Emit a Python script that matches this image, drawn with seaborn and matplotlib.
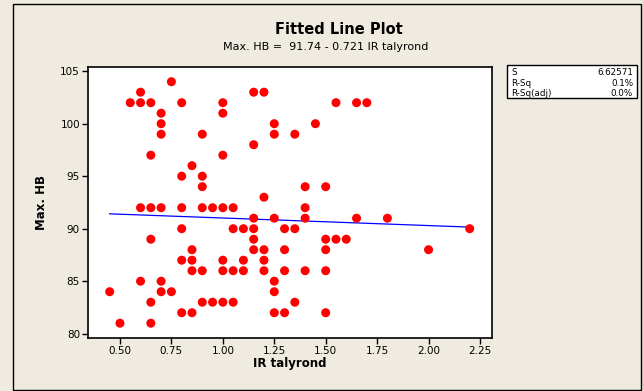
import matplotlib
matplotlib.use("Agg")
import matplotlib.pyplot as plt
import numpy as np
import pandas as pd
import seaborn as sns

# --- data ---
ir_talyrond = [
    0.45, 0.50, 0.55,
    0.60, 0.60, 0.60, 0.60,
    0.65, 0.65, 0.65, 0.65, 0.65, 0.65,
    0.70, 0.70, 0.70, 0.70, 0.70, 0.70,
    0.75, 0.75,
    0.80, 0.80, 0.80, 0.80, 0.80, 0.80,
    0.85, 0.85, 0.85, 0.85, 0.85,
    0.90, 0.90, 0.90, 0.90, 0.90, 0.90,
    0.95, 0.95,
    1.00, 1.00, 1.00, 1.00, 1.00, 1.00, 1.00,
    1.05, 1.05, 1.05, 1.05,
    1.10, 1.10, 1.10,
    1.15, 1.15, 1.15, 1.15, 1.15, 1.15,
    1.20, 1.20, 1.20, 1.20, 1.20,
    1.25, 1.25, 1.25, 1.25, 1.25, 1.25,
    1.30, 1.30, 1.30, 1.30,
    1.35, 1.35, 1.35,
    1.40, 1.40, 1.40, 1.40,
    1.45,
    1.50, 1.50, 1.50, 1.50, 1.50,
    1.55, 1.55,
    1.60,
    1.65, 1.65,
    1.70, 1.80, 2.00, 2.20,
]
max_hb = [
    84, 81, 102,
    103, 102, 92, 85,
    102, 97, 92, 89, 83, 81,
    101, 100, 99, 92, 85, 84,
    104, 84,
    102, 95, 92, 90, 87, 82,
    96, 88, 87, 86, 82,
    99, 95, 94, 92, 86, 83,
    92, 83,
    102, 101, 97, 92, 87, 86, 83,
    92, 90, 86, 83,
    90, 87, 86,
    103, 98, 91, 90, 89, 88,
    103, 93, 88, 87, 86,
    100, 99, 91, 85, 84, 82,
    90, 88, 86, 82,
    99, 90, 83,
    94, 92, 91, 86,
    100,
    94, 89, 88, 86, 82,
    102, 89,
    89,
    102, 91,
    102, 91, 88, 90,
]

# fitted line as printed on the chart
intercept = 91.74
slope = -0.721

stat_names = ["S", "R-Sq", "R-Sq(adj)"]
stat_values = ["6.62571", "0.1%", "0.0%"]
x_ticks = [0.50, 0.75, 1.00, 1.25, 1.50, 1.75, 2.00, 2.25]
y_ticks = [80, 85, 90, 95, 100, 105]

df = pd.DataFrame({"IR talyrond": ir_talyrond, "Max. HB": max_hb})
xs = np.linspace(df["IR talyrond"].min(), df["IR talyrond"].max(), 50)
fit_df = pd.DataFrame({"IR talyrond": xs, "Max. HB": intercept + slope * xs})

bg = "#EFEBE0"
fig = plt.figure(figsize=(6.43, 3.91), dpi=100, facecolor=bg)
ax = fig.add_axes([88.3 / 643, 1 - 337.7 / 391, (491.7 - 88.3) / 643, (337.7 - 67.3) / 391])
ax.set_facecolor("white")

sns.lineplot(data=fit_df, x="IR talyrond", y="Max. HB", color="#0000FF", lw=0.9, ax=ax)
sns.scatterplot(data=df, x="IR talyrond", y="Max. HB", color="#FF0000",
                s=42, edgecolor="none", ax=ax, zorder=3)

ax.set_xlim(0.346, 2.307)
ax.set_ylim(79.62, 105.37)
ax.set_xticks(x_ticks)
ax.set_xticklabels([f"{t:.2f}" for t in x_ticks])
ax.set_yticks(y_ticks)
ax.tick_params(direction="out", length=4, width=1, labelsize=7.5, pad=2)
for sp in ax.spines.values():
    sp.set_linewidth(1.2)
    sp.set_color("black")
ax.set_xlabel("IR talyrond", fontsize=8.5, fontweight="bold", labelpad=1)
ax.set_ylabel("Max. HB", fontsize=8.5, fontweight="bold", labelpad=9)

fig.text(339 / 643, 1 - 30 / 391, "Fitted Line Plot", ha="center", va="center",
         fontsize=10.5, fontweight="bold")
fig.text(326 / 643, 1 - 47 / 391, "Max. HB =  91.74 - 0.721 IR talyrond",
         ha="center", va="center", fontsize=8)

# stats box
box = plt.Rectangle((506.7 / 643, 1 - 98 / 391), (637 - 506.7) / 643, (98 - 64.7) / 391,
                    transform=fig.transFigure, facecolor="white", edgecolor="black", lw=1)
fig.patches.append(box)
for i, (n, v) in enumerate(zip(stat_names, stat_values)):
    yy = 1 - (72.5 + i * 10.5) / 391
    fig.text(511 / 643, yy, n, ha="left", va="center", fontsize=6.3)
    fig.text(633 / 643, yy, v, ha="right", va="center", fontsize=6.3)

# outer frame
frame = plt.Rectangle((13 / 643, 1 / 391), (641 - 13) / 643, (389 - 3) / 391,
                      transform=fig.transFigure, facecolor="none", edgecolor="black", lw=1)
fig.patches.append(frame)

fig.savefig("out.png", dpi=100, facecolor=bg)
